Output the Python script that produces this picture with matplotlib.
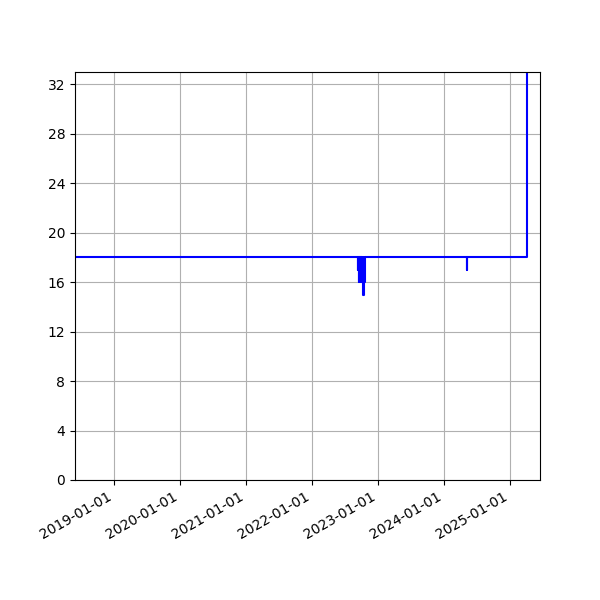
import matplotlib
matplotlib.use("Agg")
import matplotlib.pyplot as plt
import matplotlib.dates as mdates
import pandas as pd

# change points of the series (value holds until the next date)
dates = ["2018-05-28", "2022-09-14", "2022-09-15", "2022-09-17", "2022-09-18",
         "2022-09-21", "2022-09-23", "2022-09-26", "2022-09-28", "2022-10-01",
         "2022-10-03", "2022-10-06", "2022-10-08", "2022-10-11", "2022-10-13",
         "2022-10-14", "2022-10-15", "2022-10-17", "2022-10-19", "2022-10-21",
         "2024-05-09", "2024-05-10", "2025-04-07", "2025-06-19"]
values = [18, 17, 18, 17, 16,
          18, 16, 18, 16, 18,
          16, 18, 16, 18, 16,
          15, 16, 18, 16, 18,
          17, 18, 40, 40]

x = pd.to_datetime(dates)

fig, ax = plt.subplots(figsize=(6, 6), dpi=100)
ax.step(x, values, where="post", color="blue", linewidth=1.5)
ax.set_xlim(pd.Timestamp("2018-05-28"), pd.Timestamp("2025-06-19"))
ax.set_ylim(0, 33)
ax.yaxis.set_major_locator(plt.MultipleLocator(4))
ax.xaxis.set_major_locator(mdates.YearLocator())
ax.xaxis.set_major_formatter(mdates.DateFormatter("%Y-%m-%d"))
ax.grid(True)
fig.autofmt_xdate()
fig.savefig("out.png")
